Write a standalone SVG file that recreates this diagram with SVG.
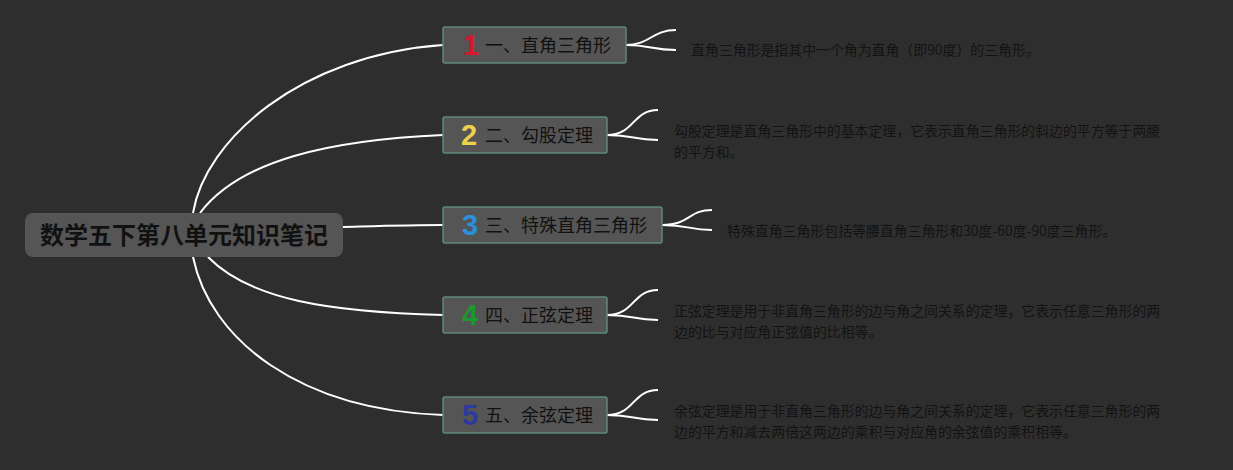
<svg xmlns="http://www.w3.org/2000/svg" width="1233" height="470" viewBox="0 0 1233 470">
<style>
.bg{fill:#2e2e2e}
.conn path{fill:none;stroke:#ffffff;stroke-width:2}
.root{fill:#555555}
.rootText{font-family:"Noto Sans CJK SC","Liberation Sans",sans-serif;font-size:24px;font-weight:bold;fill:#111111}
.box{fill:#555555;stroke:#5e8a78;stroke-width:1.5}
.lbl{font-family:"Noto Sans CJK SC","Liberation Sans",sans-serif;font-size:18px;fill:#111111}
.num{font-family:"Liberation Sans",sans-serif;font-size:29px;font-weight:bold}
.desc{font-family:"Noto Sans CJK SC","Liberation Sans",sans-serif;font-size:13.9px;fill:#131313}
</style>
<rect class="bg" x="0" y="0" width="1233" height="470"/>
<g id="connectors" class="conn">
<path d="M193,213 C205,140 300,55 443,45"/>
<path d="M200,213 C240,160 330,140 443,135"/>
<path d="M343,227 C380,226 410,225 443,225"/>
<path d="M208,257 C250,300 330,312 443,315"/>
<path d="M193,257 C210,340 300,410 443,415"/>
<path d="M626,45 C650,45 652,30 676,30"/>
<path d="M626,45 C650,45 652,50 676,50"/>
<path d="M607,135 C635,135 632,110 658,110"/>
<path d="M607,135 C635,135 632,140 658,140"/>
<path d="M662,225 C690,225 688,210 712,210"/>
<path d="M662,225 C690,225 688,230 712,230"/>
<path d="M607,315 C635,315 632,290 658,290"/>
<path d="M607,315 C635,315 632,320 658,320"/>
<path d="M607,415 C635,415 632,390 658,390"/>
<path d="M607,415 C635,415 632,420 658,420"/>
</g>
<g id="root">
<rect class="root" x="25" y="213" width="318" height="44" rx="8"/>
<text class="rootText" x="184" y="244" text-anchor="middle">数学五下第八单元知识笔记</text>
</g>
<g id="node1">
<rect class="box" x="443" y="27" width="183" height="36" rx="2"/>
<text class="num" x="471" y="55" text-anchor="middle" fill="#d8162c">1</text>
<text class="lbl" x="485" y="52">一、直角三角形</text>
</g>
<g id="node2">
<rect class="box" x="443" y="117" width="164" height="36" rx="2"/>
<text class="num" x="469" y="145" text-anchor="middle" fill="#efd04c">2</text>
<text class="lbl" x="485" y="142">二、勾股定理</text>
</g>
<g id="node3">
<rect class="box" x="443" y="207" width="219" height="36" rx="2"/>
<text class="num" x="470" y="235" text-anchor="middle" fill="#2a90dc">3</text>
<text class="lbl" x="485" y="232">三、特殊直角三角形</text>
</g>
<g id="node4">
<rect class="box" x="443" y="297" width="164" height="36" rx="2"/>
<text class="num" x="470" y="325" text-anchor="middle" fill="#1a9a2c">4</text>
<text class="lbl" x="485" y="322">四、正弦定理</text>
</g>
<g id="node5">
<rect class="box" x="443" y="397" width="164" height="36" rx="2"/>
<text class="num" x="470" y="425" text-anchor="middle" fill="#2b3a9c">5</text>
<text class="lbl" x="485" y="422">五、余弦定理</text>
</g>
<g id="desc1">
<text class="desc" x="691" y="55">直角三角形是指其中一个角为直角（即90度）的三角形。</text>
</g>
<g id="desc2">
<text class="desc" x="674" y="136">勾股定理是直角三角形中的基本定理，它表示直角三角形的斜边的平方等于两腰</text>
<text class="desc" x="674" y="157">的平方和。</text>
</g>
<g id="desc3">
<text class="desc" x="727" y="236">特殊直角三角形包括等腰直角三角形和30度-60度-90度三角形。</text>
</g>
<g id="desc4">
<text class="desc" x="674" y="316">正弦定理是用于非直角三角形的边与角之间关系的定理，它表示任意三角形的两</text>
<text class="desc" x="674" y="337">边的比与对应角正弦值的比相等。</text>
</g>
<g id="desc5">
<text class="desc" x="674" y="416">余弦定理是用于非直角三角形的边与角之间关系的定理，它表示任意三角形的两</text>
<text class="desc" x="674" y="437">边的平方和减去两倍这两边的乘积与对应角的余弦值的乘积相等。</text>
</g>
</svg>
